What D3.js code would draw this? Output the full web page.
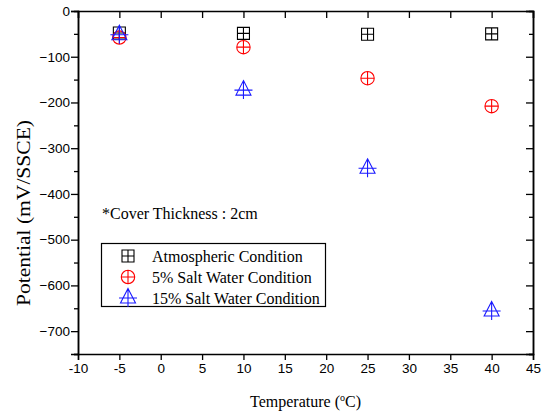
<!DOCTYPE html>
<html>
<head>
<meta charset="utf-8">
<script src="https://cdn.jsdelivr.net/npm/d3@7"></script>
<style>
  body { margin: 0; background: #fff; }
  svg { display: block; }
  .tick text { font-family: "Liberation Sans", Arial, sans-serif; font-size: 13.5px; fill: #000; }
  .serif { font-family: "Liberation Serif", "Times New Roman", serif; fill: #000; }
</style>
</head>
<body>
<svg id="chart"></svg>
<script>
const WIDTH = 544;
const HEIGHT = 414;

const temps = [-5, 10, 25, 40];
const atmospheric = [-48, -49, -51, -50];
const salt5 = [-58, -79, -147, -208];
const salt15 = [-52, -173, -344, -656];

const xTicks = [-10, -5, 0, 5, 10, 15, 20, 25, 30, 35, 40, 45];
const yTicks = [0, -100, -200, -300, -400, -500, -600, -700];
const yMinor = [-50, -150, -250, -350, -450, -550, -650, -750];

const seriesNames = ['Atmospheric Condition', '5% Salt Water Condition', '15% Salt Water Condition'];

const margin = { left: 78, right: 11, top: 11, bottom: 60 };

const svg = d3.select('#chart')
  .attr('width', WIDTH)
  .attr('height', HEIGHT);

const xScale = d3.scaleLinear()
  .domain([-10, 45])
  .range([margin.left, WIDTH - margin.right]);
const yScale = d3.scaleLinear()
  .domain([-750, 0])
  .range([HEIGHT - margin.bottom, margin.top]);

// marker shapes, drawn around (0,0)
const markerPaths = {
  square: 'M-6,-6H6V6H-6Z M0,-6V6 M-6,0H6',
  circle: 'M-6.7,0A6.7,6.7 0 1,0 6.7,0A6.7,6.7 0 1,0 -6.7,0Z M0,-6.7V6.7 M-6.7,0H6.7',
  triangle: 'M0,-9.5L7.5,5H-7.5Z M0,-9.5V9 M-9,0H9',
};

const series = [
  { name: seriesNames[0], values: atmospheric, color: '#000', shape: 'square' },
  { name: seriesNames[1], values: salt5, color: '#ff0000', shape: 'circle' },
  { name: seriesNames[2], values: salt15, color: '#1a1aff', shape: 'triangle' },
];

// x labels use a plain hyphen, y labels the wider minus sign
const xFmt = d => String(d);
const yFmt = d3.format('d');

// axes
const bottomAxis = d3.axisBottom(xScale).tickValues(xTicks).tickSize(6).tickPadding(3)
  .tickFormat(xFmt);
const topAxis = d3.axisTop(xScale).tickValues(xTicks).tickSize(-7).tickFormat('');
const leftAxis = d3.axisLeft(yScale).tickValues(yTicks).tickSize(7).tickPadding(1)
  .tickFormat(yFmt);
const leftMinor = d3.axisLeft(yScale).tickValues(yMinor).tickSize(4).tickFormat('');
const rightAxis = d3.axisRight(yScale).tickValues(yTicks).tickSize(-7).tickFormat('');
const rightMinor = d3.axisRight(yScale).tickValues(yMinor).tickSize(-4).tickFormat('');

const axisG = svg.append('g');
axisG.append('g').attr('transform', `translate(0,${yScale(-750)})`).call(bottomAxis);
axisG.append('g').attr('transform', `translate(0,${yScale(0)})`).call(topAxis);
axisG.append('g').attr('transform', `translate(${xScale(-10)},0)`).call(leftAxis);
axisG.append('g').attr('transform', `translate(${xScale(-10)},0)`).call(leftMinor);
axisG.append('g').attr('transform', `translate(${xScale(45)},0)`).call(rightAxis);
axisG.append('g').attr('transform', `translate(${xScale(45)},0)`).call(rightMinor);
axisG.selectAll('.domain').attr('stroke', '#000').attr('stroke-width', 1.5);
axisG.selectAll('.tick line').attr('stroke', '#000').attr('stroke-width', 1.3);
axisG.selectAll('.tick text').attr('font-family', null).attr('font-size', null);

// points
series.forEach(s => {
  svg.append('g')
    .selectAll('path')
    .data(temps.map((t, i) => ({ t, v: s.values[i] })))
    .enter()
    .append('path')
    .attr('d', markerPaths[s.shape])
    .attr('transform', d => `translate(${xScale(d.t)},${yScale(d.v)})`)
    .attr('fill', 'none')
    .attr('stroke', s.color)
    .attr('stroke-width', 1.1);
});

// annotation
svg.append('text')
  .attr('class', 'serif')
  .attr('x', 102)
  .attr('y', 219)
  .attr('font-size', 16)
  .text('*Cover Thickness : 2cm');

// legend
const legend = svg.append('g');
legend.append('rect')
  .attr('x', 101.5).attr('y', 243.5)
  .attr('width', 224).attr('height', 63)
  .attr('fill', '#fff').attr('stroke', '#000').attr('stroke-width', 1.2);
series.forEach((s, i) => {
  const cy = 256 + i * 21;
  legend.append('path')
    .attr('d', markerPaths[s.shape])
    .attr('transform', `translate(128,${cy})`)
    .attr('fill', 'none')
    .attr('stroke', s.color)
    .attr('stroke-width', 1.1);
  legend.append('text')
    .attr('class', 'serif')
    .attr('x', 152)
    .attr('y', cy + 5.5)
    .attr('font-size', 16)
    .text(s.name);
});

// axis titles
const xTitle = svg.append('text')
  .attr('class', 'serif')
  .attr('x', (xScale(-10) + xScale(45)) / 2)
  .attr('y', 407)
  .attr('text-anchor', 'middle')
  .attr('font-size', 16);
xTitle.append('tspan').text('Temperature (');
xTitle.append('tspan').attr('font-size', 10).attr('dy', -6).text('o');
xTitle.append('tspan').attr('dy', 6).text('C)');

svg.append('text')
  .attr('class', 'serif')
  .attr('transform', 'translate(30,213) rotate(-90)')
  .attr('text-anchor', 'middle')
  .attr('font-size', 18)
  .attr('textLength', 186)
  .attr('lengthAdjust', 'spacingAndGlyphs')
  .text('Potential (mV/SSCE)');
</script>
</body>
</html>
